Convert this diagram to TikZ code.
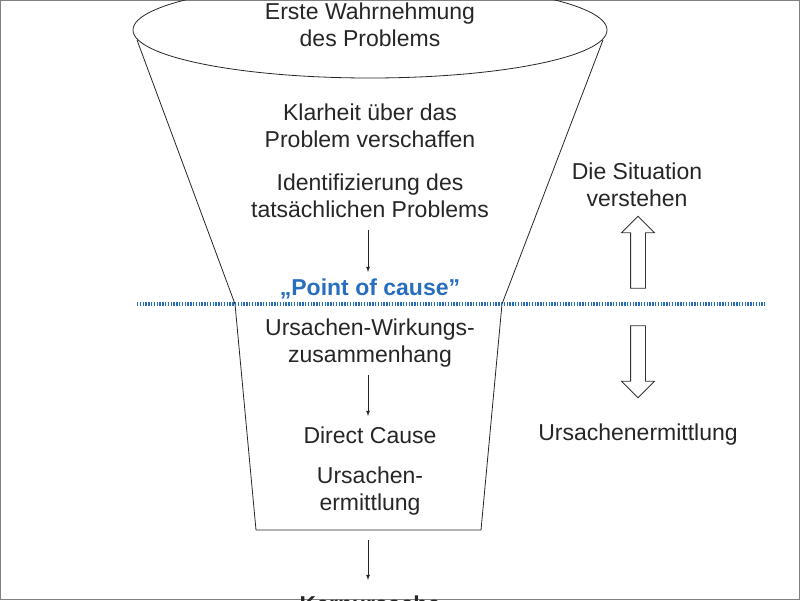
\documentclass[tikz,border=0pt]{standalone}
\usepackage{fontspec}
\setmainfont{Liberation Sans}
\usetikzlibrary{shapes.arrows}
\definecolor{causeblue}{RGB}{40,110,190}
\tikzset{
  txt/.style={align=center, font=\fontsize{23}{27}\selectfont, text=black!85},
  bigarrow/.style={single arrow, draw=black!80, thick, inner sep=7pt,
    single arrow head extend=9pt, single arrow tip angle=90, minimum height=72pt},
}
\begin{document}
\begin{tikzpicture}[x=1pt,y=-1pt,>=latex]
\useasboundingbox (0,0) rectangle (800,600);
\draw[black!50] (0.5,0.5) rectangle (799.5,599.5);

% funnel
\draw[thick, black!85] (370,30) ellipse [x radius=237, y radius=48];
\draw[thick, black!85] (137,40) -- (235,304) -- (256,530) -- (481,530) -- (502,304) -- (603,40);

% separation line
\draw[causeblue, line width=4pt, dash pattern=on 1.4pt off 1.4pt] (137,304) -- (765,304);

% texts inside the funnel
\node[txt] (erste) at (370,25) {Erste Wahrnehmung\\des Problems};
\node[txt] (klar) at (370,126) {Klarheit über das\\Problem verschaffen};
\node[txt] (ident) at (370,196) {Identifizierung des\\tatsächlichen Problems};
\node[txt, font=\fontsize{23}{27}\selectfont\bfseries, text=causeblue] (poc) at (370,289) {„Point of cause”};
\node[txt] (wirk) at (370,343) {Ursachen-Wirkungs-\\zusammenhang};
\node[txt] (direct) at (370,435) {Direct Cause};
\node[txt] (ermitt) at (370,491) {Ursachen-\\ermittlung};
\node[txt, font=\fontsize{23}{27}\selectfont\bfseries] (kern) at (370,604) {Kernursache};

% small arrows
\draw[->, thick, black!85] (368,230) -- (368,272);
\draw[->, thick, black!85] (368,375) -- (368,416);
\draw[->, thick, black!85] (368,540) -- (368,580);

% right side
\node[txt] (verstehen) at (637,185) {Die Situation\\verstehen};
\node[txt] (ursachen) at (638,435) {Ursachenermittlung};
\node[bigarrow, rotate=90] (up) at (638,256) {};
\node[bigarrow, rotate=-90] (down) at (638,358) {};
\end{tikzpicture}
\end{document}
